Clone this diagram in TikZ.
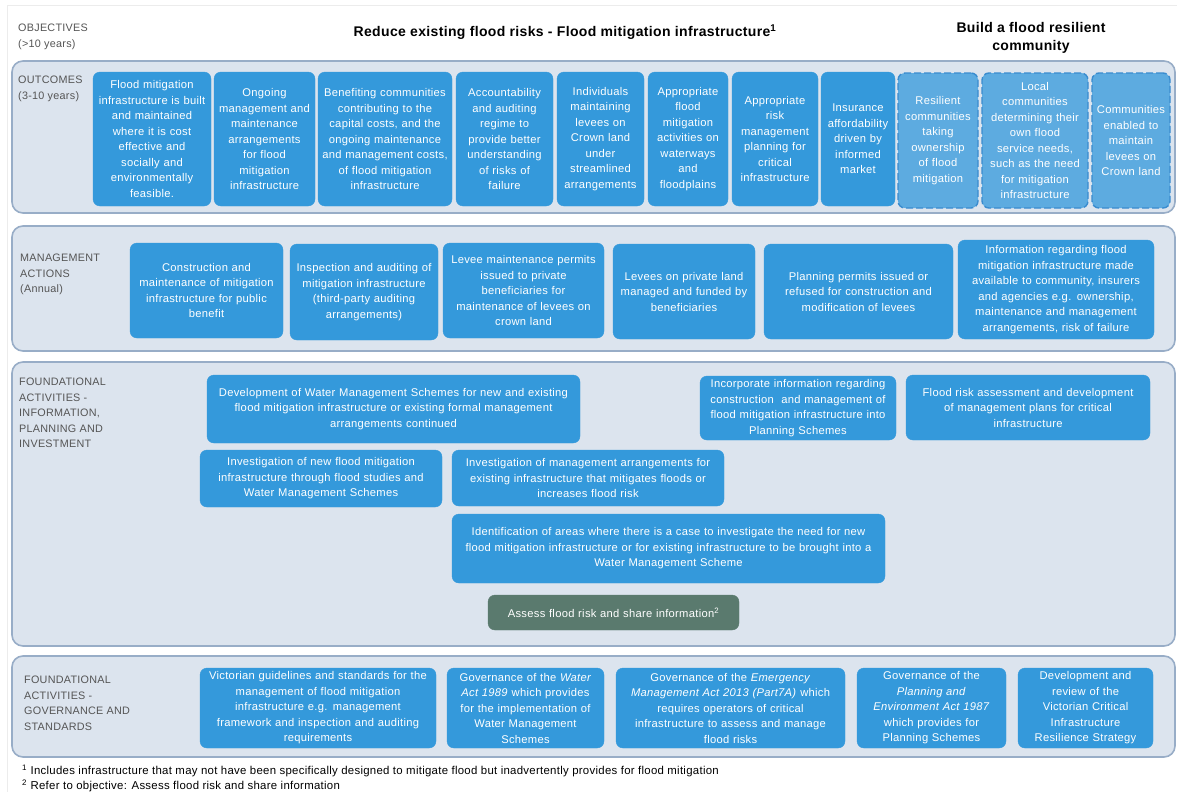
\documentclass[tikz,border=0pt]{standalone}
\usepackage{fontspec}
\setmainfont{Liberation Sans}[LetterSpace=2.5]
\definecolor{boxblue}{HTML}{3499DB}
\definecolor{lightblue}{HTML}{5DABE0}
\definecolor{dashblue}{HTML}{3A8CCF}
\definecolor{greenbox}{HTML}{5A7A6E}
\definecolor{panelfill}{HTML}{DCE4EE}
\definecolor{panelline}{HTML}{98ADC7}
\definecolor{labelgray}{HTML}{555555}
\definecolor{framegray}{HTML}{ECECEC}
\newcommand\mybox[7][]{%
  \pgfmathsetmacro\bw{#5-#3}\pgfmathsetmacro\bh{#6-#4}\pgfmathsetmacro\tw{#5-#3-2}%
  \node[bluebox,#1,minimum width=\bw pt,minimum height=\bh pt,text width=\tw pt] (#2) at ({(#3+#5)/2},{-(#4+#6)/2}) {#7};}
\newcommand\mypanel[5]{%
  \pgfmathsetmacro\bw{#4-#2}\pgfmathsetmacro\bh{#5-#3}%
  \node[panel,minimum width=\bw pt,minimum height=\bh pt] (#1) at ({(#2+#4)/2},{-(#3+#5)/2}) {};}
\begin{document}
\begin{tikzpicture}[x=1pt,y=1pt,
  panel/.style={draw=panelline,fill=panelfill,line width=1.6pt,rounded corners=11pt,inner sep=0pt},
  bluebox/.style={fill=boxblue,draw=boxblue,rounded corners=7pt,inner sep=0pt,align=center,text=white,
    font=\fontsize{11.2}{15.5}\selectfont},
  dashbox/.style={fill=lightblue,draw=dashblue,line width=1.4pt,dash pattern=on 7pt off 3pt},
  greenstyle/.style={fill=greenbox,draw=greenbox},
  rowlabel/.style={anchor=north west,align=left,inner sep=0pt,text=labelgray,font=\fontsize{10.8}{15.5}\selectfont},
  titletext/.style={align=center,inner sep=0pt,font=\bfseries\fontsize{14}{17.5}\selectfont},
  footnote/.style={anchor=base west,inner sep=0pt,font=\fontsize{11.4}{13}\selectfont}]
\useasboundingbox (0,0) rectangle (1177,-792);
\fill[white] (0,0) rectangle (1177,-792);
\draw[framegray,line width=1pt] (7,-792) -- (7,-6) -- (1177,-6);

% objectives row
\node[rowlabel] (objlab) at (18,-24) {OBJECTIVES\\(>10 years)};
\node[titletext] (obj1) at (565,-32) {Reduce existing flood risks - Flood mitigation infrastructure\textsuperscript{1}};
\node[titletext] (obj2) at (1031,-38) {Build a flood resilient\\community};

% panels
\mypanel{poutcomes}{12}{61}{1175}{213}
\mypanel{pmanage}{12}{226}{1175}{351}
\mypanel{pfound}{12}{362}{1175}{646}
\mypanel{pgov}{12}{656}{1175}{757}

% outcomes
\node[rowlabel] (outlab) at (18,-76) {OUTCOMES\\(3-10 years)};
\mybox{o1}{93}{72}{211}{206}{Flood mitigation\\infrastructure is built\\and maintained\\where it is cost\\effective and\\socially and\\environmentally\\feasible.}
\mybox{o2}{214}{72}{315}{206}{Ongoing\\management and\\maintenance\\arrangements\\for flood\\mitigation\\infrastructure}
\mybox{o3}{318}{72}{452}{206}{Benefiting communities\\contributing to the\\capital costs, and the\\ongoing maintenance\\and management costs,\\of flood mitigation\\infrastructure}
\mybox{o4}{456}{72}{553}{206}{Accountability\\and auditing\\regime to\\provide better\\understanding\\of risks of\\failure}
\mybox{o5}{557}{72}{644}{206}{Individuals\\maintaining\\levees on\\Crown land\\under\\streamlined\\arrangements}
\mybox{o6}{648}{72}{728}{206}{Appropriate\\flood\\mitigation\\activities on\\waterways\\and\\floodplains}
\mybox{o7}{732}{72}{818}{206}{Appropriate\\risk\\management\\planning for\\critical\\infrastructure}
\mybox{o8}{821}{72}{895}{206}{Insurance\\affordability\\driven by\\informed\\market}
\mybox[dashbox]{o9}{898}{73}{978}{208}{Resilient\\communities\\taking\\ownership\\of flood\\mitigation}
\mybox[dashbox]{o10}{982}{73}{1088}{208}{Local\\communities\\determining their\\own flood\\service needs,\\such as the need\\for mitigation\\infrastructure}
\mybox[dashbox]{o11}{1092}{73}{1170}{208}{Communities\\enabled to\\maintain\\levees on\\Crown land}

% management actions
\node[rowlabel] (mlab) at (20,-254) {MANAGEMENT\\ACTIONS\\(Annual)};
\mybox{m1}{130}{243}{283}{338}{Construction and\\maintenance of mitigation\\infrastructure for public\\benefit}
\mybox{m2}{290}{244}{438}{340}{Inspection and auditing of\\mitigation infrastructure\\(third-party auditing\\arrangements)}
\mybox{m3}{443}{243}{604}{338}{Levee maintenance permits\\issued to private\\beneficiaries for\\maintenance of levees on\\crown land}
\mybox{m4}{613}{244}{755}{339}{Levees on private land\\managed and funded by\\beneficiaries}
\mybox{m5}{764}{244}{953}{339}{Planning permits issued or\\refused for construction and\\modification of levees}
\mybox{m6}{958}{240}{1154}{339}{Information regarding flood\\mitigation infrastructure made\\available to community, insurers\\and agencies e.g. ownership,\\maintenance and management\\arrangements, risk of failure}

% foundational - information
\node[rowlabel] (flab) at (19,-378) {FOUNDATIONAL\\ACTIVITIES -\\INFORMATION,\\PLANNING AND\\INVESTMENT};
\mybox{f1}{207}{375}{580}{443}{Development of Water Management Schemes for new and existing\\flood mitigation infrastructure or existing formal management\\arrangements continued}
\mybox{f2}{700}{376}{896}{440}{Incorporate information regarding\\construction\ \ and management of\\flood mitigation infrastructure into\\Planning Schemes}
\mybox{f3}{906}{375}{1150}{440}{Flood risk assessment and development\\of management plans for critical\\infrastructure}
\mybox{f4}{200}{450}{442}{507}{Investigation of new flood mitigation\\infrastructure through flood studies and\\Water Management Schemes}
\mybox{f5}{452}{450}{724}{506}{Investigation of management arrangements for\\existing infrastructure that mitigates floods or\\increases flood risk}
\mybox{f6}{452}{514}{885}{583}{Identification of areas where there is a case to investigate the need for new\\flood mitigation infrastructure or for existing infrastructure to be brought into a\\Water Management Scheme}
\mybox[greenstyle]{f7}{488}{595}{739}{630}{Assess flood risk and share information\textsuperscript{2}}

% foundational - governance
\node[rowlabel] (glab) at (24,-676) {FOUNDATIONAL\\ACTIVITIES -\\GOVERNANCE AND\\STANDARDS};
\mybox{g1}{200}{668}{436}{748}{Victorian guidelines and standards for the\\management of flood mitigation\\infrastructure e.g. management\\framework and inspection and auditing\\requirements}
\mybox{g2}{447}{668}{604}{748}{Governance of the \textit{Water}\\\textit{Act 1989} which provides\\for the implementation of\\Water Management\\Schemes}
\mybox{g3}{616}{668}{845}{748}{Governance of the \textit{Emergency}\\\textit{Management Act 2013 (Part7A)} which\\requires operators of critical\\infrastructure to assess and manage\\flood risks}
\mybox{g4}{857}{668}{1006}{748}{Governance of the\\\textit{Planning and}\\\textit{Environment Act 1987}\\which provides for\\Planning Schemes}
\mybox{g5}{1018}{668}{1153}{748}{Development and\\review of the\\Victorian Critical\\Infrastructure\\Resilience Strategy}

% footnotes
\node[footnote] (fn1) at (22,-774) {\textsuperscript{1} Includes infrastructure that may not have been specifically designed to mitigate flood but inadvertently provides for flood mitigation};
\node[footnote] (fn2) at (22,-789) {\textsuperscript{2} Refer to objective: Assess flood risk and share information};
\end{tikzpicture}
\end{document}
